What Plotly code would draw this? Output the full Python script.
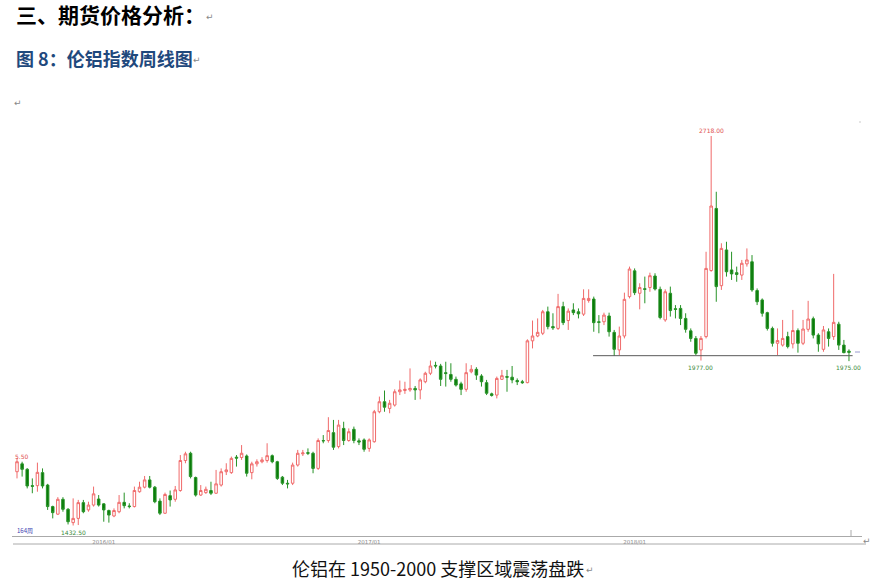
import pandas as pd
import plotly.graph_objects as go

# ---------------- data (weekly LME aluminium index candles) ----------------
weeks = pd.date_range("2015-09-07", periods=164, freq="W-MON")

open_ = [1610,1636,1618,1564,1564,1607,1566,1495,1470,1519,1486,1442,1456,1508,1484,1500,1520,1504,1482,1464,
         1478,1509,1497,1495,1544,1559,1583,1559,1513,1473,1531,1519,1548,1647,1671,1591,1533,1541,1548,1539,
         1566,1610,1607,1658,1657,1662,1607,1636,1643,1647,1663,1643,1592,1572,1572,1632,1669,1673,1671,1621,
         1713,1713,1739,1693,1753,1713,1750,1712,1715,1687,1709,1808,1841,1819,1830,1874,1878,1880,1885,1880,
         1907,1935,1961,1959,1937,1931,1915,1900,1882,1940,1948,1926,1904,1867,1863,1915,1924,1922,1911,1907,
         1904,2042,2058,2067,2138,2089,2083,2155,2109,2144,2138,2130,2175,2180,2105,2105,2124,2070,2012,2058,
         2188,2273,2199,2214,2218,2256,2212,2111,2199,2148,2149,2116,2075,2050,2012,2056,2274,2479,2224,2342,
         2276,2267,2259,2296,2303,2208,2177,2135,2083,2034,2028,2056,2032,2076,2034,2080,2115,2061,2014,2072,
         2056,2097,2028,2008]
high = [1655.5,1643,1622,1588,1640,1621,1570,1498,1526,1526,1490,1522,1517,1517,1511,1561,1533,1506,1485,1489,
        1533,1541,1506,1561,1577,1596,1596,1563,1522,1541,1548,1563,1665,1676,1676,1594,1566,1561,1577,1616,
        1621,1638,1660,1665,1698,1667,1643,1651,1658,1704,1667,1646,1596,1583,1640,1682,1682,1687,1676,1720,
        1731,1790,1781,1781,1775,1753,1759,1720,1720,1720,1814,1858,1878,1847,1882,1911,1907,1951,1893,1918,
        1940,1977,1973,1966,1973,1968,1924,1907,1968,1962,1955,1932,1913,1871,1924,1946,1946,1959,1918,1913,
        2047,2109,2116,2144,2155,2133,2197,2171,2149,2166,2149,2212,2212,2188,2127,2135,2135,2078,2089,2201,
        2287,2281,2232,2254,2267,2265,2221,2212,2221,2160,2160,2133,2083,2058,2058,2336,2718,2534,2364,2369,
        2336,2287,2309,2347,2325,2215,2182,2138,2089,2083,2111,2072,2144,2083,2111,2174,2122,2067,2091,2083,
        2263,2105,2045,2014]
low = [1588,1594,1555,1539,1544,1555,1484,1456,1467,1478,1436,1432.5,1434,1473,1478,1495,1495,1445,1442,1460,
       1473,1489,1489,1492,1541,1555,1555,1506,1467,1471,1495,1511,1544,1638,1588,1528,1530,1537,1533,1537,
       1561,1599,1603,1627,1649,1594,1585,1627,1638,1640,1638,1583,1566,1555,1566,1627,1662,1665,1605,1616,
       1704,1706,1682,1687,1698,1709,1704,1698,1676,1676,1706,1803,1808,1803,1825,1863,1867,1874,1847,1849,
       1902,1929,1951,1893,1891,1907,1891,1863,1874,1935,1913,1891,1863,1858,1852,1913,1874,1902,1896,1900,
       1902,2017,2054,2061,2080,2078,2078,2094,2078,2127,2116,2124,2168,2072,2067,2094,2056,1992,1995,2050,
       2182,2193,2146,2166,2204,2208,2113,2105,2122,2116,2094,2069,2039,1995,1977,2050,2270,2171,2210,2254,
       2243,2237,2243,2287,2204,2160,2122,2076,2023,1995,2023,2017,2017,2003,2028,2072,2050,2006,2006,2023,
       2045,2012,2001,1975]
close = [1643,1618,1563,1562,1608,1563,1495,1475,1519,1486,1445,1456,1508,1478,1500,1537,1500,1484,1467,1482,
         1509,1498,1495,1548,1559,1583,1559,1511,1473,1535,1517,1550,1647,1669,1594,1533,1548,1552,1539,1570,
         1610,1616,1654,1655,1671,1605,1636,1643,1649,1663,1643,1588,1572,1570,1632,1671,1672,1671,1621,1713,
         1712,1746,1691,1764,1713,1742,1713,1708,1684,1715,1808,1841,1823,1836,1874,1880,1882,1885,1880,1913,
         1935,1959,1959,1915,1934,1915,1896,1882,1937,1948,1929,1907,1869,1862,1918,1927,1922,1913,1907,1904,
         2042,2058,2070,2138,2089,2085,2155,2102,2140,2135,2131,2182,2182,2102,2103,2127,2072,2014,2058,2179,
         2279,2201,2218,2212,2257,2213,2119,2204,2142,2146,2116,2080,2050,2001,2050,2281,2487,2221,2347,2270,
         2263,2261,2298,2309,2210,2171,2133,2083,2034,2043,2050,2023,2076,2034,2081,2114,2061,2032,2078,2050,
         2103,2028,2003,2004]

support_level = 1993
tick_dates = ["2016-01-04", "2017-01-02", "2018-01-01"]
tick_text = ["2016/01", "2017/01", "2018/01"]
first_label = "5.50"
count_label = "164周"

heading = "三、期货价格分析："
fig_title = "图 8：伦铝指数周线图"
caption = "伦铝在 1950-2000 支撑区域震荡盘跌"

# ---------------- layout geometry (pixels of the 880x582 page) ----------------
W, H = 880, 582
L, R, T, B = 12, 862, 120, 536          # plot area
day_px = 5.098 / 7.0
x0 = weeks[0] - pd.Timedelta(days=(17 - L) / day_px)
x1 = weeks[-1] + pd.Timedelta(days=(R - 849) / day_px)
y_lo, y_hi = 3166.9 - 3.3004 * B, 3166.9 - 3.3004 * T

def px(x):
    return (x - L) / (R - L)

def py(y):
    return (B - y) / (B - T)

RED = "#F06A6A"
GREEN_LINE = "#279327"
GREEN_FILL = "#0A7A0A"
CJK = "Noto Sans CJK SC"

fig = go.Figure()
fig.add_trace(go.Candlestick(
    x=weeks, open=open_, high=high, low=low, close=close,
    increasing=dict(line=dict(color=RED, width=1), fillcolor="white"),
    decreasing=dict(line=dict(color=GREEN_LINE, width=1), fillcolor=GREEN_FILL),
    whiskerwidth=0, showlegend=False, hoverinfo="skip",
))

# support line
fig.add_trace(go.Scatter(
    x=[weeks[113] - pd.Timedelta(days=1), weeks[-1] + pd.Timedelta(days=5)],
    y=[support_level, support_level], mode="lines",
    line=dict(color="#5a5a5a", width=1), showlegend=False, hoverinfo="skip",
))

ann = []
small = dict(family="Verdana, DejaVu Sans", size=6)
i_max = high.index(max(high))
i_min = low.index(min(low))
ann.append(dict(x=weeks[i_max], y=high[i_max], xref="x", yref="y", text=f"{high[i_max]:.2f}",
                showarrow=False, yanchor="bottom", yshift=0, font=dict(small, color="#e05050")))
ann.append(dict(x=weeks[i_min], y=low[i_min], xref="x", yref="y", text=f"{low[i_min]:.2f}",
                showarrow=False, yanchor="top", yshift=-1, font=dict(small, color="#3a8a3a")))
ann.append(dict(x=weeks[134], y=low[134], xref="x", yref="y", text=f"{low[134]:.2f}",
                showarrow=False, yanchor="top", yshift=-1, font=dict(small, color="#3a8a3a")))
ann.append(dict(x=weeks[163], y=low[163], xref="x", yref="y", text=f"{low[163]:.2f}",
                showarrow=False, yanchor="top", yshift=-1, font=dict(small, color="#3a8a3a")))
ann.append(dict(x=px(13), y=py(456), xref="paper", yref="paper", text=first_label, showarrow=False,
                xanchor="left", yanchor="middle", font=dict(small, color="#e05050")))
ann.append(dict(x=px(15), y=py(530), xref="paper", yref="paper", text=count_label, showarrow=False,
                xanchor="left", yanchor="middle", font=dict(family=CJK, size=6, color="#3b3bb0")))

# document text
ann.append(dict(x=px(14), y=py(14), xref="paper", yref="paper", text=f"<b>{heading}</b>", showarrow=False,
                xanchor="left", yanchor="middle", font=dict(family=CJK, size=21, color="#000000")))
ann.append(dict(x=px(14), y=py(58), xref="paper", yref="paper", text=f"<b>{fig_title}</b>", showarrow=False,
                xanchor="left", yanchor="middle", font=dict(family=CJK, size=18, color="#1F497D")))
ann.append(dict(x=px(438), y=py(568), xref="paper", yref="paper", text=caption, showarrow=False,
                xanchor="center", yanchor="middle", font=dict(family=CJK, size=18, color="#111111")))
for (xx, yy) in [(210, 17), (197, 60), (18, 103), (590, 570), (867, 541)]:
    ann.append(dict(x=px(xx), y=py(yy), xref="paper", yref="paper", text="↵", showarrow=False,
                    xanchor="center", yanchor="middle", font=dict(family="DejaVu Sans", size=9, color="#888888")))

shapes = [
    dict(type="line", xref="paper", yref="paper", x0=px(13), x1=px(866), y0=py(544), y1=py(544),
         line=dict(color="#aaaaaa", width=1)),
    dict(type="line", xref="paper", yref="paper", x0=px(851), x1=px(851), y0=py(530), y1=py(536),
         line=dict(color="#aaaaaa", width=1)),
    dict(type="line", xref="paper", yref="paper", x0=px(855), x1=px(860), y0=py(352), y1=py(352),
         line=dict(color="#9a9ad0", width=1)),
    dict(type="rect", xref="paper", yref="paper", x0=px(859.5), x1=px(860.5), y0=py(122.5), y1=py(121.5),
         line=dict(width=0), fillcolor="#999999"),
]

fig.update_layout(
    width=W, height=H,
    margin=dict(l=L, r=W - R, t=T, b=H - B),
    paper_bgcolor="white", plot_bgcolor="white",
    annotations=ann, shapes=shapes,
    showlegend=False,
    xaxis=dict(type="date", range=[x0, x1], showgrid=False, zeroline=False,
               showline=True, linecolor="#aaaaaa", linewidth=1,
               tickvals=tick_dates, ticktext=tick_text, ticks="",
               tickfont=dict(family="Verdana, DejaVu Sans", size=5.5, color="#888888"),
               rangeslider=dict(visible=False), fixedrange=True),
    yaxis=dict(range=[y_lo, y_hi], visible=False, showgrid=False, fixedrange=True),
)

fig.write_html("out.html", config={"displayModeBar": False},
               post_script="document.body.style.margin='0';document.body.style.padding='0';"
                           "document.body.style.overflow='hidden';")
